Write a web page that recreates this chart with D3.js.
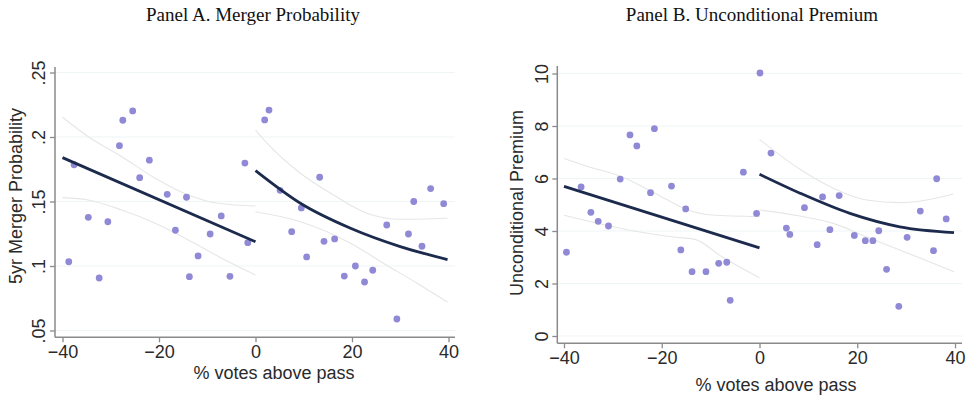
<!DOCTYPE html>
<html><head><meta charset="utf-8">
<script src="https://cdn.jsdelivr.net/npm/d3@7"></script>
<style>
html,body{margin:0;padding:0;background:#fff;}
svg{display:block;}
</style></head>
<body>
<script>
// ---------- DATA ----------
const xTicks = [-40, -20, 0, 20, 40];
const aYTicks = [0.05, 0.1, 0.15, 0.2, 0.25];
const aYTickLabels = [".05", ".1", ".15", ".2", ".25"];
const bYTicks = [0, 2, 4, 6, 8, 10];
const bYTickLabels = ["0", "2", "4", "6", "8", "10"];

const titleA = "Panel A. Merger Probability";
const titleB = "Panel B. Unconditional Premium";
const xLabel = "% votes above pass";
const yLabelA = "5yr Merger Probability";
const yLabelB = "Unconditional Premium";

// Panel A scatter
const aLeftX = [-38.7,-37.6,-34.65,-32.4,-30.6,-28.2,-27.5,-25.45,-24.0,-22.0,-18.3,-16.6,-14.3,-13.7,-11.9,-9.4,-7.1,-5.3,-2.2,-1.6];
const aLeftY = [0.1033,0.1785,0.1377,0.0907,0.1343,0.1933,0.213,0.2202,0.1685,0.182,0.1556,0.1277,0.1533,0.0917,0.1078,0.1248,0.1388,0.092,0.1798,0.1181];
const aRightX = [1.9,2.8,5.1,7.5,9.5,10.6,13.3,14.2,16.4,18.4,20.7,22.6,24.3,27.2,29.3,31.7,32.8,34.5,36.3,39.0];
const aRightY = [0.2132,0.2209,0.1587,0.1266,0.145,0.107,0.1688,0.1191,0.121,0.0922,0.100,0.0876,0.0967,0.1318,0.0589,0.1248,0.150,0.1153,0.160,0.1483];
// Panel A fits and confidence bands
const aFitLX = [-40, 0], aFitLY = [0.184, 0.1188];
const aUpLX = [-40,-34.65,-27.7,-20.8,-13.9,-9.8,-4.2,0], aUpLY = [0.2153,0.2002,0.1847,0.168,0.155,0.150,0.1473,0.1465];
const aLoLX = [-40,-34.65,-27.7,-20.8,-13.9,-7.0,0], aLoLY = [0.153,0.1512,0.1434,0.1331,0.1202,0.106,0.093];
const aFitRX = [0,9.3,19.7,30,39.8], aFitRY = [0.1739,0.1486,0.1292,0.115,0.1050];
const aUpRX = [0,2.1,9.3,16.2,23.1,30,39.8], aUpRY = [0.2054,0.1964,0.1719,0.155,0.1409,0.1362,0.137];
const aLoRX = [0,9.3,19.7,26.6,33.5,39.8], aLoRY = [0.142,0.1343,0.1176,0.102,0.0866,0.0720];

// Panel B scatter
const bLeftX = [-39.5,-36.5,-34.5,-33.0,-30.9,-28.5,-26.5,-25.1,-22.3,-21.5,-18.0,-16.1,-15.1,-13.8,-10.95,-8.35,-6.7,-6.0,-3.3,-0.6];
const bLeftY = [3.19,5.68,4.71,4.37,4.19,5.98,7.66,7.24,5.46,7.90,5.71,3.28,4.84,2.45,2.45,2.77,2.81,1.36,6.24,4.67];
const bRightX = [0.1,2.35,5.5,6.2,9.2,11.8,12.9,14.4,16.3,19.4,21.65,23.2,24.4,26.0,28.5,30.2,32.9,35.6,36.25,38.2];
const bRightY = [10.02,6.97,4.11,3.87,4.89,3.48,5.30,4.05,5.35,3.83,3.63,3.63,4.01,2.54,1.13,3.76,4.76,3.25,5.99,4.46];
// Panel B fits and confidence bands
const bFitLX = [-40, 0], bFitLY = [5.70, 3.36];
const bUpLX = [-40,-35,-28.2,-21.4,-14.6,-9.8,0], bUpLY = [6.76,6.45,6.07,5.44,4.8,4.61,4.55];
const bLoLX = [-40,-31.6,-24.8,-18,-13.2,-7.7,0], bLoLY = [4.6,4.23,3.97,3.78,3.68,3.02,2.22];
const bFitRX = [0,8.3,18.5,28.7,39.8], bFitRY = [6.16,5.44,4.67,4.16,3.94];
const bUpRX = [0,8.3,15.1,21.9,28.7,39.7], bUpRY = [7.49,6.35,5.63,5.18,5.08,5.41];
const bLoRX = [0,8.3,15.1,21.9,28.7,39.8], bLoRY = [4.8,4.57,4.29,3.78,3.28,2.45];

// ---------- LAYOUT / STYLE ----------
const W = 968, H = 397;
const dotColor = "#8f89d6", fitColor = "#1c2a4d", ciColor = "#e6e6e6", gridColor = "#eef5f5";
const axisColor = "#8a8a8a", textColor = "#2a2a2a";
const sans = "'Liberation Sans', Arial, Helvetica, sans-serif";
const serif = "'Liberation Serif', 'Times New Roman', serif";

const svg = d3.select("body").append("svg").attr("width", W).attr("height", H);

const zip = (xs, ys) => xs.map((x, i) => [x, ys[i]]);

function panel(cfg) {
  const x = d3.scaleLinear().domain([-40, 40]).range(cfg.xRange);
  const y = d3.scaleLinear().domain(cfg.yDomain).range(cfg.yRange);
  const g = svg.append("g");

  // gridlines
  g.selectAll(".grid").data(cfg.yTicks).join("line")
    .attr("x1", cfg.axisX).attr("x2", cfg.axisRight)
    .attr("y1", d => y(d)).attr("y2", d => y(d))
    .attr("stroke", gridColor).attr("stroke-width", 1.2);

  // confidence bands
  const line = d3.line().x(d => x(d[0])).y(d => y(d[1])).curve(d3.curveMonotoneX);
  cfg.cis.forEach(c => g.append("path").attr("d", line(c))
    .attr("fill", "none").attr("stroke", ciColor).attr("stroke-width", 1.1));

  // scatter
  cfg.points.forEach(p => g.selectAll(null).data(p).join("circle")
    .attr("cx", d => x(d[0])).attr("cy", d => y(d[1])).attr("r", 3.4)
    .attr("fill", dotColor));

  // fits
  cfg.fits.forEach(f => g.append("path").attr("d", line(f))
    .attr("fill", "none").attr("stroke", fitColor).attr("stroke-width", 2.8));

  // x axis
  const xa = g.append("g").attr("transform", `translate(0,${cfg.axisY})`)
    .call(d3.axisBottom(x).tickValues(xTicks).tickSize(5).tickSizeOuter(0).tickPadding(3));
  xa.select(".domain").remove();
  xa.selectAll("line").attr("stroke", axisColor).attr("stroke-width", 1.3);
  xa.selectAll("text").attr("font-family", sans).attr("font-size", 18).attr("fill", textColor);
  g.append("line").attr("x1", cfg.axisX).attr("x2", cfg.axisRight)
    .attr("y1", cfg.axisY).attr("y2", cfg.axisY).attr("stroke", axisColor).attr("stroke-width", 1.5);

  // y axis
  const ya = g.append("g").attr("transform", `translate(${cfg.axisX},0)`)
    .call(d3.axisLeft(y).tickValues(cfg.yTicks).tickFormat((d, i) => cfg.yLabels[i]).tickSize(5).tickSizeOuter(0));
  ya.select(".domain").remove();
  ya.selectAll("line").attr("stroke", axisColor).attr("stroke-width", 1.3);
  ya.selectAll("text").attr("font-family", sans).attr("font-size", 18).attr("fill", textColor)
    .attr("x", null).attr("dy", null).attr("text-anchor", "middle")
    .attr("transform", `translate(${-cfg.yTickGap},0) rotate(-90)`);
  g.append("line").attr("x1", cfg.axisX).attr("x2", cfg.axisX)
    .attr("y1", cfg.axisTop).attr("y2", cfg.axisY).attr("stroke", axisColor).attr("stroke-width", 1.5);

  // labels
  g.append("text").attr("x", cfg.xLabelX).attr("y", cfg.xLabelY).attr("text-anchor", "middle")
    .attr("font-family", sans).attr("font-size", 18).attr("fill", textColor).text(xLabel);
  g.append("text").attr("transform", `translate(${cfg.yLabelX},${cfg.yLabelY}) rotate(-90)`)
    .attr("text-anchor", "middle").attr("font-family", sans).attr("font-size", 18)
    .attr("fill", textColor).text(cfg.yLabel);
  g.append("text").attr("x", cfg.titleX).attr("y", cfg.titleY).attr("text-anchor", "middle")
    .attr("font-family", serif).attr("font-size", 19).attr("fill", "#111").text(cfg.title);
}

panel({
  xRange: [62.5, 448.5], yDomain: [0.05, 0.25], yRange: [330.5, 72.5],
  yTicks: aYTicks, yLabels: aYTickLabels,
  axisX: 55, axisRight: 455, axisY: 337.3, axisTop: 67, yTickGap: 10,
  points: [zip(aLeftX, aLeftY), zip(aRightX, aRightY)],
  fits: [zip(aFitLX, aFitLY), zip(aFitRX, aFitRY)],
  cis: [zip(aUpLX, aUpLY), zip(aLoLX, aLoLY), zip(aUpRX, aUpRY), zip(aLoRX, aLoRY)],
  xLabelX: 274, xLabelY: 378.5, yLabelX: 21.5, yLabelY: 196, yLabel: yLabelA,
  titleX: 253, titleY: 21, title: titleA
});

panel({
  xRange: [564, 955], yDomain: [0, 10], yRange: [336, 73.5],
  yTicks: bYTicks, yLabels: bYTickLabels,
  axisX: 557.3, axisRight: 962, axisY: 343.3, axisTop: 66, yTickGap: 9.5,
  points: [zip(bLeftX, bLeftY), zip(bRightX, bRightY)],
  fits: [zip(bFitLX, bFitLY), zip(bFitRX, bFitRY)],
  cis: [zip(bUpLX, bUpLY), zip(bLoLX, bLoLY), zip(bUpRX, bUpRY), zip(bLoRX, bLoRY)],
  xLabelX: 776, xLabelY: 390.5, yLabelX: 523, yLabelY: 203, yLabel: yLabelB,
  titleX: 752, titleY: 21, title: titleB
});
</script>
</body></html>
